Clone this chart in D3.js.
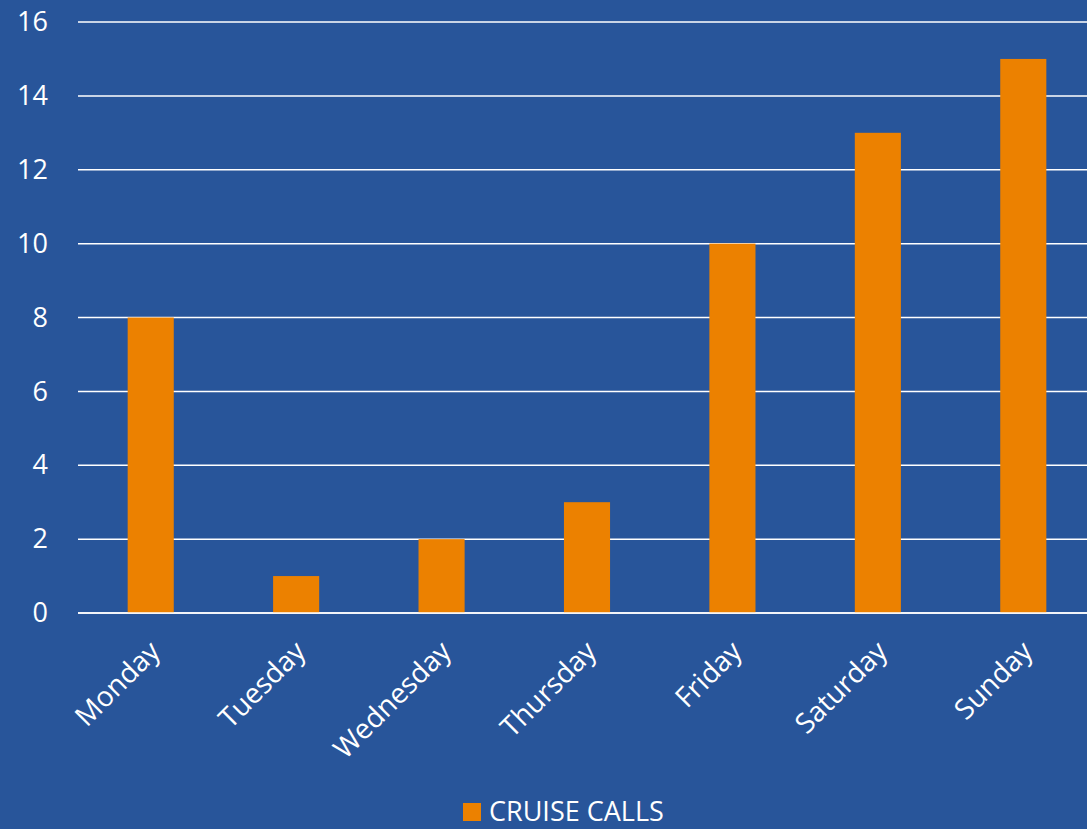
<!DOCTYPE html>
<html><head><meta charset="utf-8">
<script src="https://cdn.jsdelivr.net/npm/d3@7"></script>
<style>html,body{margin:0;padding:0;background:#28559A;overflow:hidden}</style>
</head><body>
<svg id="c" width="1087" height="829"></svg>
<script>
const categories = ["Monday","Tuesday","Wednesday","Thursday","Friday","Saturday","Sunday"];
const values = [8, 1, 2, 3, 10, 13, 15];
const yTicks = [0, 2, 4, 6, 8, 10, 12, 14, 16];
const seriesName = "CRUISE CALLS";

const W = 1087, H = 829;
const svg = d3.select("#c");
svg.append("rect").attr("width", W).attr("height", H).attr("fill", "#28559A");
const font = "'Open Sans', sans-serif";
const x = d3.scaleBand().domain(categories).range([78, 1096]).paddingInner(0.683).paddingOuter(0.3415);
const y = d3.scaleLinear().domain([0, 16]).range([613, 22]);

const grid = svg.append("g");
grid.selectAll("line").data(yTicks).join("line")
  .attr("x1", 78).attr("x2", W).attr("y1", d => y(d)).attr("y2", d => y(d))
  .attr("stroke", "#fff").attr("stroke-width", 1.5);

const yAxis = svg.append("g").attr("transform", "translate(48,0)")
  .call(d3.axisLeft(y).tickValues(yTicks).tickSize(0).tickPadding(0));
yAxis.select(".domain").remove();
yAxis.selectAll("text").attr("fill", "#fff").style("font-family", font).style("font-size", "27px");

svg.append("g").selectAll("rect").data(values).join("rect")
  .attr("x", (d, i) => x(categories[i])).attr("width", x.bandwidth())
  .attr("y", d => y(d)).attr("height", d => y(0) - y(d))
  .attr("fill", "#EC8100");

svg.append("line").attr("x1", 78).attr("x2", W).attr("y1", y(0)).attr("y2", y(0))
  .attr("stroke", "#fff").attr("stroke-width", 1.5);

const xAxis = svg.append("g").attr("transform", `translate(0,${y(0)})`)
  .call(d3.axisBottom(x).tickSize(0).tickPadding(0));
xAxis.select(".domain").remove();
xAxis.selectAll("text")
  .attr("fill", "#fff").style("font-family", font).style("font-size", "28px")
  .attr("text-anchor", "end").attr("dy", 0).attr("y", 0)
  .attr("transform", "translate(11,40) rotate(-45)");

const lg = svg.append("g");
lg.append("rect").attr("x", 463).attr("y", 803).attr("width", 18).attr("height", 18).attr("fill", "#EC8100");
lg.append("text").attr("x", 489).attr("y", 821).text(seriesName)
  .attr("fill", "#fff").style("font-family", font).style("font-size", "27px");
</script>
</body></html>
